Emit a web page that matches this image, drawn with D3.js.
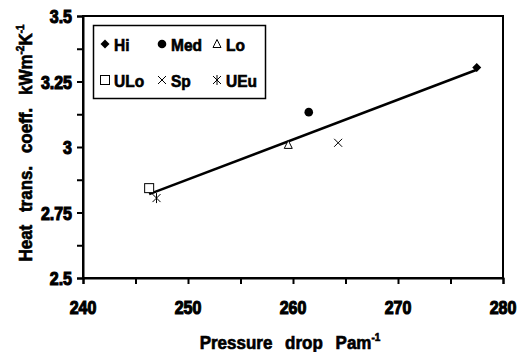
<!DOCTYPE html>
<html><head><meta charset="utf-8">
<script src="https://cdn.jsdelivr.net/npm/d3@7"></script>
<style>body{margin:0;background:#fff}svg{display:block}text{font-family:Arial,"Liberation Sans",sans-serif;font-weight:700;fill:#000;stroke:#000;stroke-width:0.6px}text.tick{stroke-width:1px}</style>
</head><body><svg id="c" width="523" height="352"></svg>
<script>
const seriesNames = ["Hi","Med","Lo","ULo","Sp","UEu"];
const seriesX = [277.5, 261.5, 259.55, 246.3, 264.3, 247.0];
const seriesY = [3.303, 3.133, 3.008, 2.843, 3.016, 2.805];
const trendX = [246.3, 277.5];
const trendY = [2.82, 3.295];
const xTicks = [240, 250, 260, 270, 280];
const yTicks = [2.5, 2.75, 3, 3.25, 3.5];
const yTickLabels = ["2.5","2.75","3","3.25","3.5"];

const svg = d3.select("#c");
const L = 83, R = 503, T = 16, B = 278;
const SY = 1.12; // glyph stretch perpendicular to baseline
const x = d3.scaleLinear().domain([240, 280]).range([L, R]);
const y = d3.scaleLinear().domain([2.5, 3.5]).range([B, T]);

function stext(g, tx, ty, rot, size, anchor) {
  return g.append("text")
    .attr("transform", `translate(${tx},${ty}) rotate(${rot}) scale(1,${SY})`)
    .attr("text-anchor", anchor).attr("font-size", size);
}

// frame
svg.append("rect").attr("x", L).attr("y", T).attr("width", R - L).attr("height", B - T)
  .attr("fill", "none").attr("stroke", "#000").attr("stroke-width", 2);

// x axis ticks
const xa = svg.append("g").attr("transform", `translate(0,${B})`)
  .call(d3.axisBottom(x).tickValues(d3.range(240, 281, 5)).tickSize(6).tickFormat(""));
xa.select(".domain").attr("stroke-width", 2);
xa.selectAll("line").attr("stroke-width", 2);
xTicks.forEach(v => stext(svg, x(v), 314, 0, 16, "middle").attr("class", "tick").text(v));

// y axis ticks
const ya = svg.append("g").attr("transform", `translate(${L},0)`)
  .call(d3.axisLeft(y).tickValues(d3.range(0, 9).map(i => 2.5 + i * 0.125)).tickSize(6).tickFormat(""));
ya.select(".domain").attr("stroke-width", 2);
ya.selectAll("line").attr("stroke-width", 2);
yTicks.forEach((v, i) => stext(svg, 72, y(v) + 7, 0, 16, "end").attr("class", "tick").text(yTickLabels[i]));

// titles
const xt = stext(svg, 290, 349, 0, 17, "middle").attr("word-spacing", 8);
xt.append("tspan").text("Pressure drop Pam");
xt.append("tspan").attr("font-size", 10).attr("dy", -7).text("-1");

const yt = stext(svg, 31.5, 143, -90, 17, "middle").attr("word-spacing", 8);
yt.append("tspan").text("Heat trans. coeff. kWm");
yt.append("tspan").attr("font-size", 10).attr("dy", -7).text("-2");
yt.append("tspan").attr("dy", 7).text("K");
yt.append("tspan").attr("font-size", 10).attr("dy", -7).text("-1");

// trend line
svg.append("path").datum(trendX.map((v, i) => [v, trendY[i]]))
  .attr("d", d3.line().x(d => x(d[0])).y(d => y(d[1])))
  .attr("fill", "none").attr("stroke", "#000").attr("stroke-width", 2.5);

// markers
function marker(g, name, cx, cy) {
  const s = g.append("g").attr("transform", `translate(${cx},${cy})`);
  switch (name) {
    case "Hi": s.append("path").attr("d", "M0,-4.5L4.5,0L0,4.5L-4.5,0Z").attr("fill", "#000"); break;
    case "Med": s.append("circle").attr("r", 4.3).attr("fill", "#000"); break;
    case "Lo": s.append("path").attr("d", "M0,-4.5L4,3.5L-4,3.5Z").attr("fill", "#fff").attr("stroke", "#000").attr("stroke-width", 1); break;
    case "ULo": s.append("rect").attr("x", -4.5).attr("y", -4.5).attr("width", 9).attr("height", 9).attr("fill", "#fff").attr("stroke", "#000").attr("stroke-width", 1); break;
    case "Sp": s.append("path").attr("d", "M-4,-4L4,4M-4,4L4,-4").attr("stroke", "#000").attr("stroke-width", 1); break;
    case "UEu": s.append("path").attr("d", "M-4,-4L4,4M-4,4L4,-4M0,-5L0,5").attr("stroke", "#000").attr("stroke-width", 1); break;
  }
}
const pts = svg.append("g");
seriesNames.forEach((n, i) => marker(pts, n, x(seriesX[i]), y(seriesY[i])));

// legend
const lg = svg.append("g");
lg.append("rect").attr("x", 93.5).attr("y", 25.5).attr("width", 172).attr("height", 73)
  .attr("fill", "#fff").attr("stroke", "#000").attr("stroke-width", 1.5);
const cols = [105, 162, 217], rows = [44, 80];
seriesNames.forEach((n, i) => {
  const cx = cols[i % 3], cy = rows[Math.floor(i / 3)];
  marker(lg, n, cx, cy);
  stext(lg, cx + 9, cy + 6.5, 0, 15.5, "start").text(n);
});
</script></body></html>
